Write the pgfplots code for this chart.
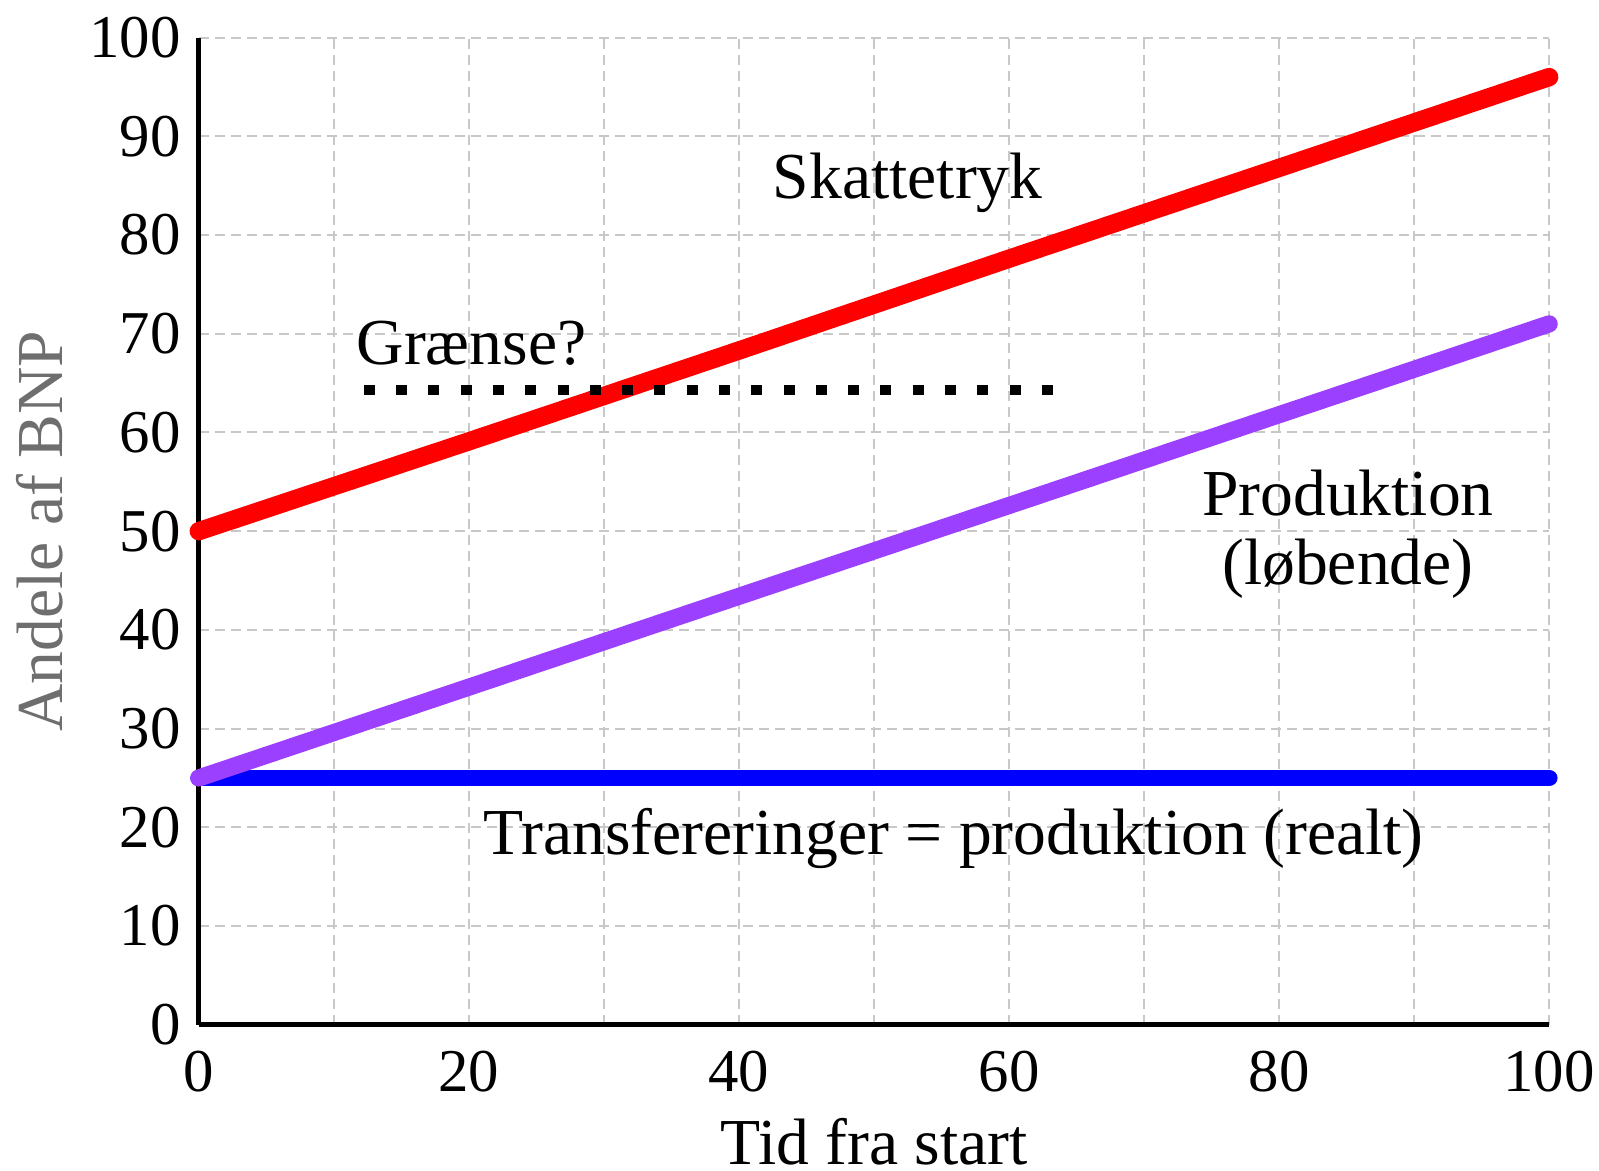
\documentclass[border=0pt]{standalone}
\usepackage{fontspec}
\setmainfont{Liberation Serif}
\usepackage{pgfplots}
\pgfplotsset{compat=1.18}
\definecolor{gridgray}{RGB}{200,200,200}
\definecolor{prodpurple}{RGB}{155,64,255}
\definecolor{labgray}{RGB}{110,110,110}
\begin{document}
\begin{tikzpicture}[font=\fontsize{16.4}{19}\selectfont]
\begin{axis}[
  width=337.6pt, height=246.8pt, scale only axis,
  xmin=0, xmax=100, ymin=0, ymax=100,
  axis lines=left,
  axis line style={line width=1.2pt, -},
  xtick={0,20,40,60,80,100},
  ytick={0,10,20,30,40,50,60,70,80,90,100},
  minor x tick num=1,
  grid=both,
  major grid style={gridgray, dash pattern=on 2.5pt off 1.5pt, line width=0.5pt},
  minor grid style={gridgray, dash pattern=on 2.5pt off 1.5pt, line width=0.5pt},
  major tick length=0pt, minor tick length=0pt,
  tick style={draw=none},
  /pgf/number format/assume math mode=true,
  ticklabel style={font=\fontsize{15.2}{18}\selectfont},
  xticklabel style={yshift=-3pt},
  yticklabel style={xshift=-1pt},
  xlabel={Tid fra start},
  ylabel={Andele af BNP},
  xlabel style={at={(axis description cs:0.5,0)}, anchor=base, yshift=-35pt, font=\fontsize{16.4}{19}\selectfont},
  ylabel style={at={(axis description cs:-0.118,0.5)}, anchor=center, text=labgray, font=\fontsize{16.4}{19}\selectfont},
  clip=false,
]
\addplot[blue, line width=4.2pt, line cap=round] coordinates {(0,25) (100,25)};
\addplot[prodpurple, line width=4.3pt, line cap=round] coordinates {
(0,25) (20,34.2) (40,43.4) (60,52.6) (80,61.8) (100,71)};
\addplot[red, line width=4.6pt, line cap=round] coordinates {
(0,50) (20,59.1) (40,68.3) (60,77.6) (80,86.8) (100,96)};
\addplot[black, line width=2.6pt, dash pattern=on 2.75pt off 5.32pt] coordinates {(12.23,64.3) (63.25,64.3)};
\node at (axis cs:52.5,85.3) {Skattetryk};
\node at (axis cs:20.2,69.0) {Grænse?};
\node at (axis cs:85.1,53.9) {Produktion};
\node at (axis cs:85.1,46.2) {(løbende)};
\node at (axis cs:55.9,18.9) {Transfereringer = produktion (realt)};
\coordinate (bl) at (axis cs:-14.72,-14.71);
\coordinate (tr) at (axis cs:103.69,103.81);
\end{axis}
\pgfresetboundingbox
\useasboundingbox (bl) rectangle (tr);
\end{tikzpicture}
\end{document}
